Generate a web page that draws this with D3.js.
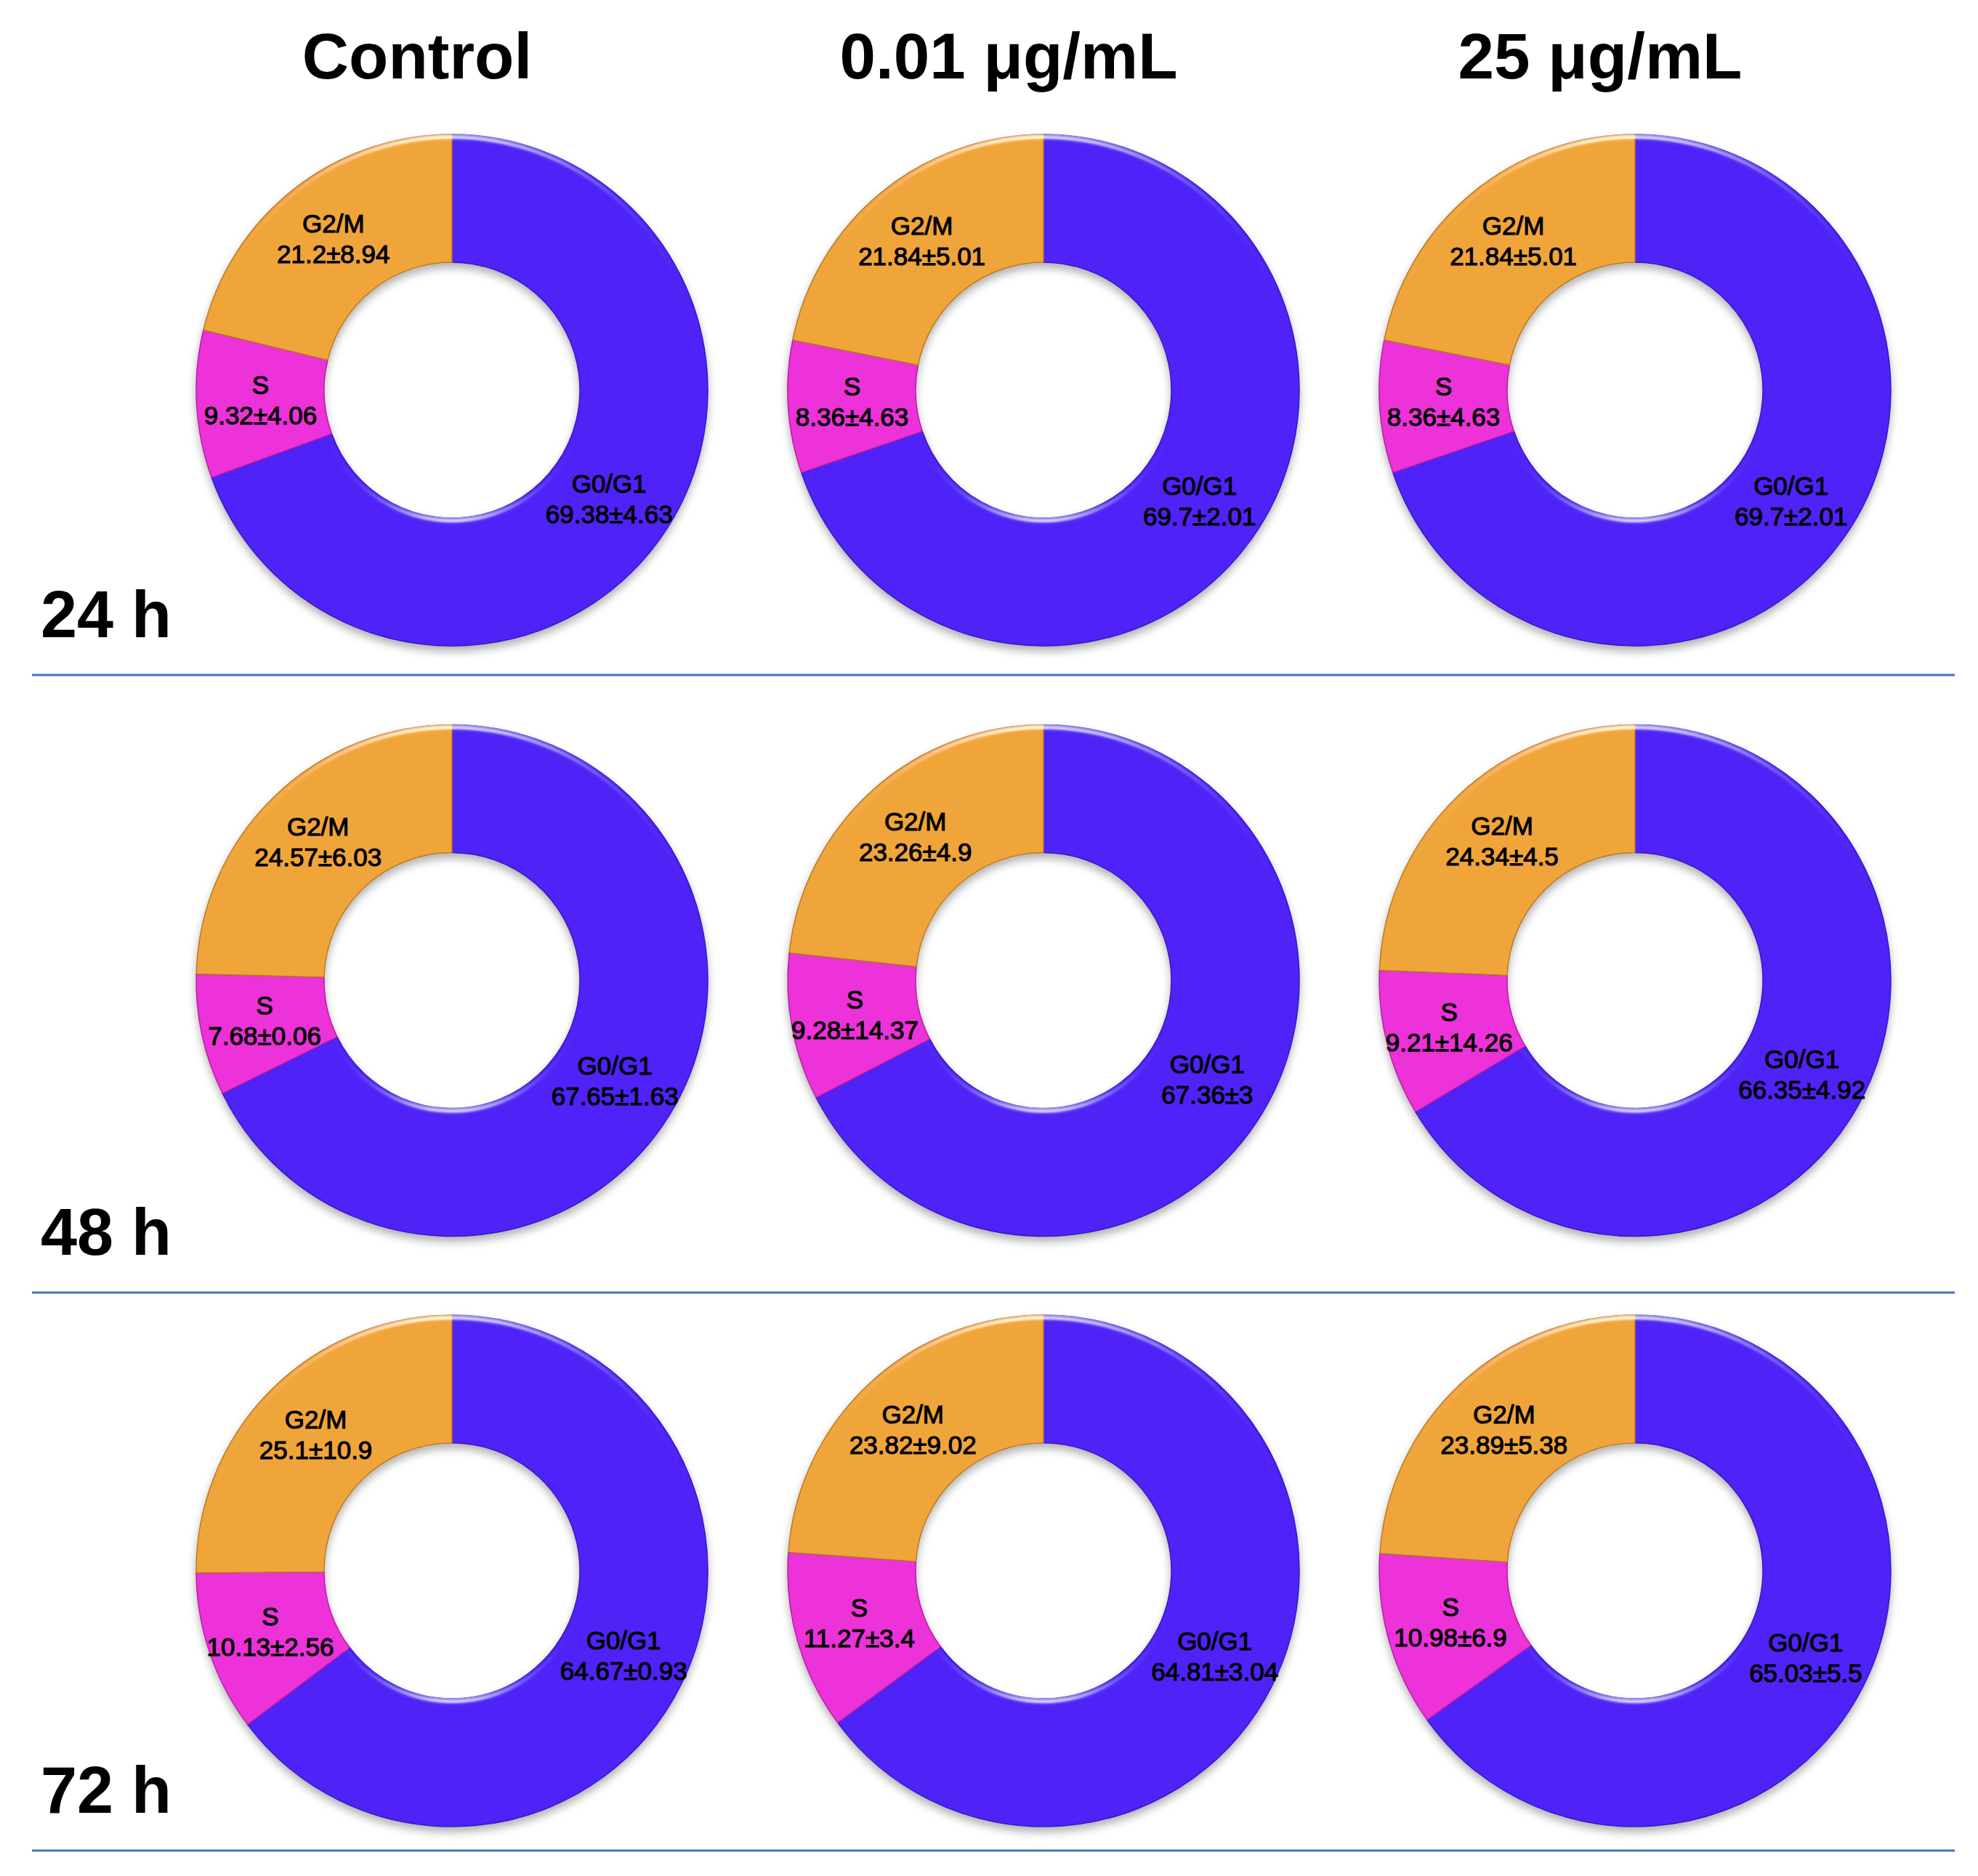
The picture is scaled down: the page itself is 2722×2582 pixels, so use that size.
<!DOCTYPE html>
<html>
<head>
<meta charset="utf-8">
<script src="https://cdn.jsdelivr.net/npm/d3@7"></script>
<style>
  body { margin: 0; background: #fff; }
  svg { display: block; }
</style>
</head>
<body>
<div id="chart"></div>
<script>
// cell cycle phase distribution (%), 3 time points x 3 treatments
const columns = ["Control", "0.01 μg/mL", "25 μg/mL"];
const rows = ["24 h", "48 h", "72 h"];
const phases = ["G0/G1", "S", "G2/M"];

// mean values per panel, order: G0/G1, S, G2/M
const means24 = [[69.38, 9.32, 21.2], [69.7, 8.36, 21.84], [69.7, 8.36, 21.84]];
const means48 = [[67.65, 7.68, 24.57], [67.36, 9.28, 23.26], [66.35, 9.21, 24.34]];
const means72 = [[64.67, 10.13, 25.1], [64.81, 11.27, 23.82], [65.03, 10.98, 23.89]];

// standard deviations, same order
const sd24 = [[4.63, 4.06, 8.94], [2.01, 4.63, 5.01], [2.01, 4.63, 5.01]];
const sd48 = [[1.63, 0.06, 6.03], [3, 14.37, 4.9], [4.92, 14.26, 4.5]];
const sd72 = [[0.93, 2.56, 10.9], [3.04, 3.4, 9.02], [5.5, 6.9, 5.38]];

const means = [means24, means48, means72];
const sds = [sd24, sd48, sd72];

const width = 2722, height = 2582;
const outerR = 352, innerR = 176;

const svg = d3.select("#chart").append("svg")
    .attr("width", width)
    .attr("height", height)
    .style("font-family", "'Liberation Sans', Arial, sans-serif");

// bevel + soft shadow like the office 3D preset
const defs = svg.append("defs");
const f = defs.append("filter").attr("id", "bevel")
    .attr("x", "-10%").attr("y", "-10%").attr("width", "120%").attr("height", "125%");
f.append("feGaussianBlur").attr("in", "SourceAlpha").attr("stdDeviation", 5).attr("result", "blur");
const spec = f.append("feSpecularLighting").attr("in", "blur")
    .attr("surfaceScale", 6).attr("specularConstant", 0.6)
    .attr("specularExponent", 40).attr("lighting-color", "#ffffff").attr("result", "spec");
spec.append("feDistantLight").attr("azimuth", 270).attr("elevation", 25);
f.append("feComposite").attr("in", "spec").attr("in2", "SourceAlpha").attr("operator", "in").attr("result", "specIn");
f.append("feComposite").attr("in", "SourceGraphic").attr("in2", "specIn")
    .attr("operator", "arithmetic").attr("k1", 0).attr("k2", 1).attr("k3", 1).attr("k4", 0).attr("result", "lit");
f.append("feOffset").attr("in", "SourceAlpha").attr("dx", 0).attr("dy", 7).attr("result", "off");
f.append("feGaussianBlur").attr("in", "off").attr("stdDeviation", 6).attr("result", "offBlur");
f.append("feFlood").attr("flood-color", "#000").attr("flood-opacity", 0.3).attr("result", "fl");
f.append("feComposite").attr("in", "fl").attr("in2", "offBlur").attr("operator", "in").attr("result", "shadow");
const merge = f.append("feMerge");
merge.append("feMergeNode").attr("in", "shadow");
merge.append("feMergeNode").attr("in", "lit");

const color = d3.scaleOrdinal()
    .domain(phases)
    .range(["#4f22f7", "#ec31d8", "#f0a53b"]);
const edge = d3.scaleOrdinal()
    .domain(phases)
    .range(["#3a17c4", "#b71fa6", "#b97a22"]);

const x = d3.scalePoint().domain(columns).range([622, 2250]);
const y = d3.scalePoint().domain(rows).range([537, 2162]);

const pie = d3.pie().sort(null).value(d => d.value);
const arc = d3.arc().innerRadius(innerR).outerRadius(outerR);
const labelArc = d3.arc().innerRadius((innerR + outerR) / 2).outerRadius((innerR + outerR) / 2);

// column headers
svg.append("g").selectAll("text")
    .data(columns)
    .enter().append("text")
    .attr("x", d => x(d) - 48)
    .attr("y", 108)
    .attr("text-anchor", "middle")
    .style("font-size", "89px")
    .style("font-weight", "bold")
    .text(d => d);

// row separators and row labels
const sepY = [929, 1779, 2547];
svg.append("g").selectAll("line")
    .data(rows)
    .enter().append("line")
    .attr("x1", 44).attr("x2", 2690)
    .attr("y1", (d, i) => sepY[i]).attr("y2", (d, i) => sepY[i])
    .attr("stroke", "#4472c4")
    .attr("stroke-width", 3);

svg.append("g").selectAll("text")
    .data(rows)
    .enter().append("text")
    .attr("x", 56)
    .attr("y", (d, i) => sepY[i] - 52)
    .style("font-size", "90px")
    .style("font-weight", "bold")
    .text(d => d);

// donuts
rows.forEach((r, ri) => {
    columns.forEach((c, ci) => {
        const data = phases.map((p, k) => ({
            phase: p,
            value: means[ri][ci][k],
            sd: sds[ri][ci][k]
        }));
        const g = svg.append("g")
            .attr("transform", `translate(${x(c)},${y(r)})`);

        g.append("g")
            .attr("filter", "url(#bevel)")
            .selectAll("path")
            .data(pie(data))
            .enter().append("path")
            .attr("d", arc)
            .attr("fill", d => color(d.data.phase))
            .attr("stroke", d => edge(d.data.phase))
            .attr("stroke-width", 1.5);

        const lab = g.append("g").selectAll("text")
            .data(pie(data))
            .enter().append("text")
            .attr("transform", d => `translate(${labelArc.centroid(d)})`)
            .attr("text-anchor", "middle")
            .style("font-size", "35px")
            .attr("fill", "#000")
            .attr("stroke", "#000")
            .attr("stroke-width", 1.1);
        lab.append("tspan").attr("x", 0).attr("y", -10).text(d => d.data.phase);
        lab.append("tspan").attr("x", 0).attr("y", 32).text(d => `${d.data.value}±${d.data.sd}`);
    });
});
</script>
</body>
</html>
